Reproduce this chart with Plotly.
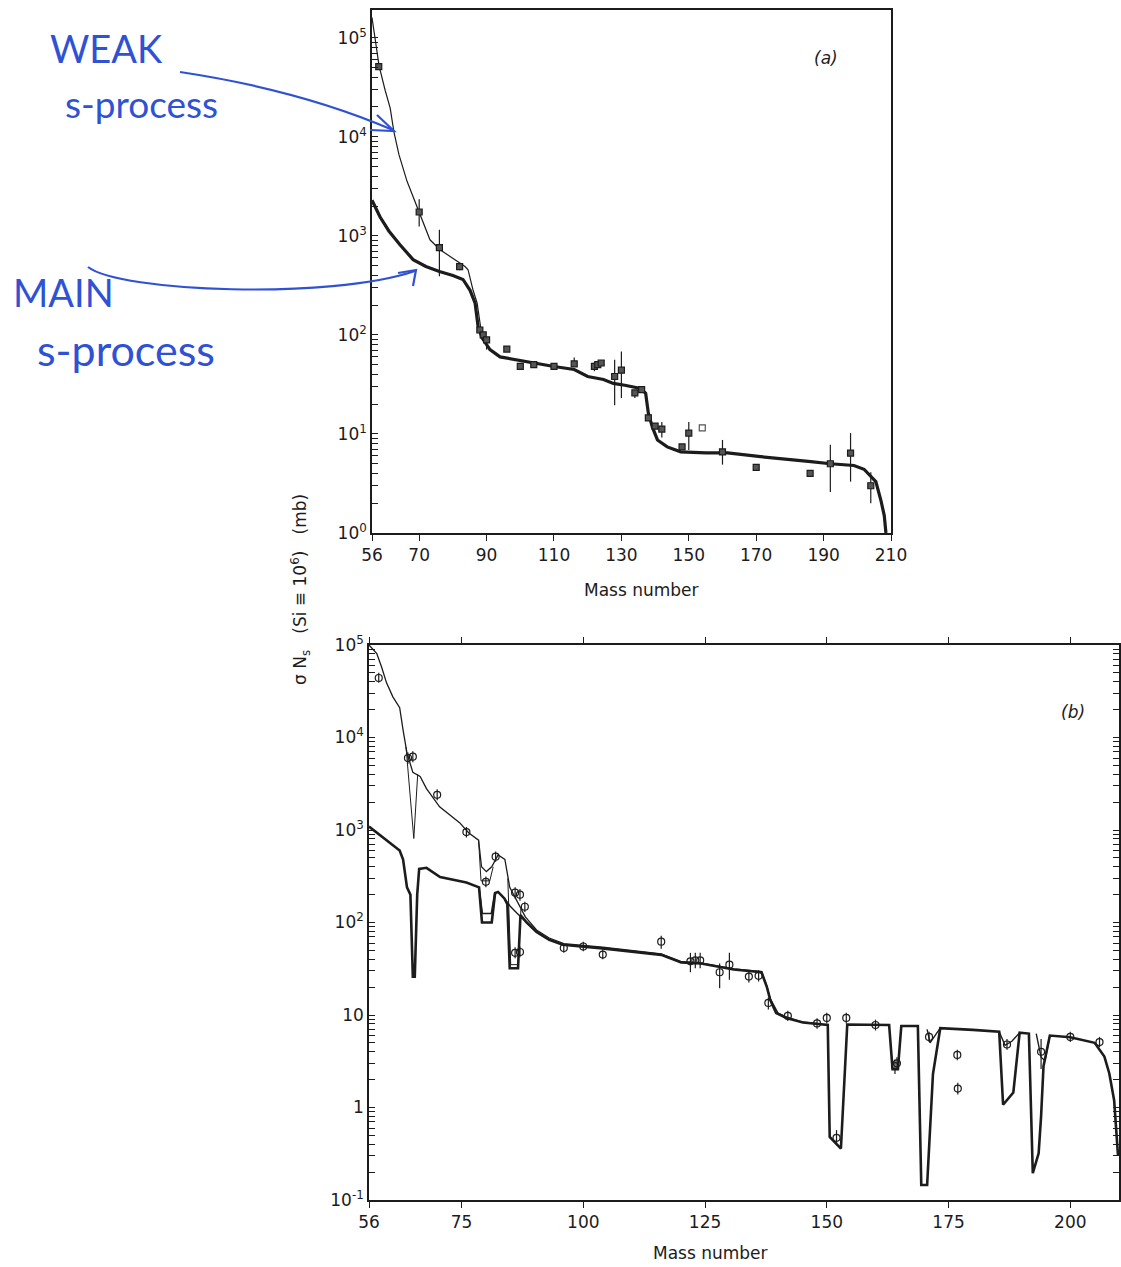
import plotly.graph_objects as go

W, H = 1121, 1267

# ---------------- Panel (a) data ----------------
a_main_A = [56, 58.4, 61, 64.3, 68.2, 72, 76, 80, 83, 85.1, 86.6, 87.5, 88.7, 91, 94, 100, 104, 110,
            116, 120, 124.7, 127.6, 131, 135.7, 137.2, 138, 139.2, 140.7, 143.6, 147.6, 155, 161.5,
            171.3, 180, 186.2, 192, 199, 202, 205.5, 207, 208, 208.5]
a_main_val = [2290, 1550, 1120, 813, 575, 490, 436, 398, 363, 282, 209, 120, 93, 71, 60, 55, 52.5, 48,
              44.7, 38, 35.5, 32.4, 31, 28.8, 25.7, 16.2, 11.7, 8.7, 7.4, 6.6, 6.45, 6.45,
              5.9, 5.56, 5.25, 5.0, 4.8, 4.4, 3.3, 2.14, 1.5, 1.0]

a_total_A = [56, 57, 58.1, 59.9, 61.4, 62.5, 64, 66.4, 69.4, 73.2, 76.2, 79.2, 82.1, 83.6, 84.5, 86, 87.2, 88.7]
a_total_val = [160000, 89000, 52000, 29500, 19500, 11200, 6600, 3550, 1950, 912, 724, 616, 537, 490, 455, 282, 209, 93]

a_pts_A = [58, 70, 76, 82, 88, 89, 90, 96, 100, 104, 110, 116, 122, 123, 124, 128, 130, 134, 136,
           138, 140, 142, 148, 150, 154, 160, 170, 186, 192, 198, 204]
a_pts_val = [51000, 1740, 760, 490, 112, 100, 89, 72, 48, 50, 48, 51, 48, 50, 52, 38, 44, 26, 28,
             14.5, 12, 11.2, 7.4, 10.2, 11.5, 6.6, 4.6, 4.0, 5.0, 6.4, 3.0]
a_err_plus = [0, 600, 390, 40, 0, 0, 5, 0, 0, 0, 0, 8, 5, 0, 0, 18, 24, 0, 0,
              0, 0, 2, 0, 3, 0, 2.1, 0, 0, 2.8, 3.8, 1.1]
a_err_minus = [0, 500, 370, 40, 0, 0, 18, 0, 0, 0, 0, 0, 5, 0, 0, 18.5, 21, 3, 0,
               0, 0, 2, 0, 3.3, 0, 1.7, 0, 0, 2.4, 3.1, 1.0]
a_open_A = [154]

# ---------------- Panel (b) data ----------------
b_main_A = [56, 58.9, 62.3, 63, 63.8, 64.5, 65.0, 65.4, 65.9, 66.3, 67.8, 70.6, 76, 78.6, 79.2, 81.2,
            81.9, 82.5, 83.8, 84.4, 84.9, 86.6, 87.1, 88.4, 90.4, 93, 95.8, 103.9, 116, 120.1, 124.2,
            130.9, 136.6, 137.7, 138.4, 139.6, 141.7, 145.1, 148.6, 150.2, 150.6, 152.9, 154.2, 160,
            162.8, 163.5, 164.6, 165.3, 168.7, 169.4, 170.6, 171.8, 173.3, 180, 185.4, 186.2, 188.3,
            189.6, 191.5, 192.3, 193.5, 194.0, 194.5, 195.8, 200, 205, 207, 208, 209, 209.8]
b_main_val = [1090, 830, 600, 480, 240, 200, 26, 26, 200, 380, 390, 310, 270, 240, 100, 100,
              209, 214, 182, 158, 32, 32, 120, 100, 79, 65, 57.5, 52.5, 44.7, 37, 36,
              31, 29, 20, 14.5, 10.5, 9.3, 8.3, 7.9, 7.8, 0.48, 0.36, 7.9, 7.8,
              7.8, 2.6, 2.6, 7.6, 7.6, 0.145, 0.145, 2.3, 7.2, 6.9, 6.6, 1.07, 1.45,
              6.45, 6.3, 0.195, 0.32, 0.8, 2.8, 6.0, 5.75, 5.0, 3.55, 2.35, 1.2, 0.3]

b_alt_A = [78.6, 79.3, 81.1, 81.8, None, 83.8, 85.0, 86.4, 88.4, None,
           170.6, 171.2, 172.5, 173.3, None, 185.4, 186.6, 188.0, 189.6, None,
           193.0, 194.0, 194.8, 195.8]
b_alt_val = [240, 125, 125, 210, None, 182, 150, 126, 100, None,
             7.0, 5.0, 6.3, 7.2, None, 6.6, 4.7, 5.2, 6.45, None,
             6.3, 3.5, 3.2, 6.0]

b_total_A = [56, 57.6, 58.6, 59.6, 60.9, 62.3, 63, 63.8, 65, 66.5, 67.8, 70.5, 74.6, 76.5, 78.5, 79.1,
             80.1, 81.2, 82.5, 83.9, 84.9, 85.9, 88.1, 90.4, 93, 96, 104, 116, 120, 124, 131,
             136.6, 137.7, 138.4, 140, 142, 145, 148.6]
b_total_val = [100000, 81000, 57500, 39000, 27500, 21000, 12000, 6800, 4200, 3800, 2800, 1780, 1200,
               930, 776, 400, 355, 400, 537, 480, 240, 190, 115, 83, 68, 59, 54, 45.7, 38, 36.5,
               31.5, 29.5, 20.5, 15, 10.5, 9.4, 8.4, 8.0]

b_total_alt_A = [63.6, 65.2, 66.0, None, 78.5, 79.0, 80.8, 81.5, None, 84.5, 85.1, 86.6, 87.2]
b_total_alt_val = [7900, 810, 4000, None, 776, 282, 282, 400, None, 300, 35, 35, 140]

b_pts_A = [58, 64, 65, 70, 76, 80, 82, 86, 87, 88, 86, 87, 96, 100, 104, 116, 122, 123, 124, 128,
           130, 134, 136, 138, 142, 148, 150, 152, 154, 160, 164, 164.4, 171, 176.8, 176.9, 187,
           194, 200, 206]
b_pts_val = [44000, 6000, 6200, 2400, 950, 275, 515, 210, 200, 148, 47, 48, 53, 55, 45, 62, 38, 39,
             39, 29, 35, 26, 26.5, 13.5, 9.8, 8.1, 9.3, 0.47, 9.3, 7.8, 2.8, 3.0, 5.8, 3.7, 1.6, 4.8,
             4.0, 5.8, 5.1]
b_err_plus = [6000, 900, 900, 350, 130, 40, 70, 30, 30, 20, 7, 7, 7, 7, 6, 10, 9, 8, 8, 7,
              12, 4, 4, 2, 1.3, 1.1, 1.3, 0.1, 1.3, 1.1, 0.5, 0.5, 0.8, 0.5, 0.25, 0.7,
              1.5, 0.8, 0.7]
b_err_minus = [5000, 800, 800, 300, 120, 35, 60, 28, 28, 18, 6, 6, 6, 6, 5, 10, 9, 7, 7, 9.5,
               11, 3.5, 3.5, 2, 1.2, 1, 1.2, 0.08, 1.2, 1, 0.5, 0.45, 0.7, 0.45, 0.22, 0.6,
               1.4, 0.7, 0.6]

a_xticks = [56, 70, 90, 110, 130, 150, 170, 190, 210]
a_yticks = [1, 10, 100, 1000, 10000, 100000]
a_yticktext = ["10<sup>0</sup>", "10<sup>1</sup>", "10<sup>2</sup>", "10<sup>3</sup>",
               "10<sup>4</sup>", "10<sup>5</sup>"]
b_xticks = [56, 75, 100, 125, 150, 175, 200]
b_yticks = [0.1, 1, 10, 100, 1000, 10000, 100000]
b_yticktext = ["10<sup>-1</sup>", "1", "10", "10<sup>2</sup>", "10<sup>3</sup>",
               "10<sup>4</sup>", "10<sup>5</sup>"]
a_minor = [m * 10 ** k for k in range(0, 6) for m in range(2, 10) if m * 10 ** k < 1.9e5]
b_minor = [m * 10.0 ** k for k in range(-1, 5) for m in range(2, 10)]

INK = "#1c1c1c"
BLUE = "#2f52d4"
FONT = "DejaVu Sans"

fig = go.Figure()

# Panel a
fig.add_trace(go.Scatter(x=a_total_A, y=a_total_val, mode="lines", line=dict(color=INK, width=1.2),
                         xaxis="x", yaxis="y", showlegend=False))
fig.add_trace(go.Scatter(x=a_main_A, y=a_main_val, mode="lines", line=dict(color=INK, width=3.2),
                         xaxis="x", yaxis="y", showlegend=False))
a_sym = ["square-open" if A in a_open_A else "square" for A in a_pts_A]
fig.add_trace(go.Scatter(x=a_pts_A, y=a_pts_val, mode="markers",
                         marker=dict(symbol=a_sym, size=6, color="#555555", line=dict(color=INK, width=1.2)),
                         error_y=dict(type="data", symmetric=False, array=a_err_plus, arrayminus=a_err_minus,
                                      color=INK, thickness=1.2, width=0),
                         xaxis="x", yaxis="y", showlegend=False))

# Panel b
fig.add_trace(go.Scatter(x=b_total_A, y=b_total_val, mode="lines", line=dict(color=INK, width=1.3),
                         xaxis="x2", yaxis="y2", showlegend=False))
fig.add_trace(go.Scatter(x=b_total_alt_A, y=b_total_alt_val, mode="lines", line=dict(color=INK, width=1.0),
                         xaxis="x2", yaxis="y2", showlegend=False, connectgaps=False))
fig.add_trace(go.Scatter(x=b_main_A, y=b_main_val, mode="lines", line=dict(color=INK, width=2.6),
                         xaxis="x2", yaxis="y2", showlegend=False))
fig.add_trace(go.Scatter(x=b_alt_A, y=b_alt_val, mode="lines", line=dict(color=INK, width=1.4),
                         xaxis="x2", yaxis="y2", showlegend=False, connectgaps=False))
fig.add_trace(go.Scatter(x=b_pts_A, y=b_pts_val, mode="markers",
                         marker=dict(symbol="circle-open", size=7, color=INK, line=dict(color=INK, width=1.2)),
                         error_y=dict(type="data", symmetric=False, array=b_err_plus, arrayminus=b_err_minus,
                                      color=INK, thickness=1.2, width=0),
                         xaxis="x2", yaxis="y2", showlegend=False))

tickfont = dict(family=FONT, size=17, color=INK)
common_x = dict(showgrid=False, zeroline=False, showline=True, linecolor=INK, linewidth=1.6,
                ticks="outside", ticklen=6, tickcolor=INK, tickfont=tickfont, tickmode="array")
common_y = dict(type="log", showgrid=False, zeroline=False, showline=True, linecolor=INK, linewidth=1.6,
                ticks="inside", ticklen=6, tickcolor=INK, tickwidth=1.4, tickfont=tickfont, tickmode="array")

a_xdom = [372 / W, 891 / W]
a_ydom = [1 - 533 / H, 1 - 10 / H]
b_xdom = [369 / W, 1119 / W]
b_ydom = [1 - 1200 / H, 1 - 645 / H]

fig.update_layout(
    width=W, height=H, margin=dict(l=0, r=0, t=0, b=0, autoexpand=False),
    paper_bgcolor="white", plot_bgcolor="white",
    xaxis=dict(common_x, domain=a_xdom, range=[56, 210], tickvals=a_xticks, mirror=True, anchor="y"),
    yaxis=dict(common_y, domain=a_ydom, range=[0, 5.28], tickvals=a_yticks + a_minor,
               ticktext=a_yticktext + [""] * len(a_minor), mirror=True, anchor="x"),
    xaxis2=dict(common_x, domain=b_xdom, range=[56, 210], tickvals=b_xticks, mirror="ticks", anchor="y2"),
    yaxis2=dict(common_y, domain=b_ydom, range=[-1, 5], tickvals=b_yticks + b_minor,
                ticktext=b_yticktext + [""] * len(b_minor), mirror="ticks", anchor="x2"),
)


def px(x, y):
    return x / W, 1 - y / H


annos = []
for (x, y, txt, size, ang, style) in [
    (641, 590, "Mass number", 17, 0, "normal"),
    (710, 1253, "Mass number", 17, 0, "normal"),
    (300, 590, "σ N<sub>s</sub>   (Si ≡ 10<sup>6</sup>)   (mb)", 17, -90, "normal"),
    (826, 58, "(a)", 17, 0, "italic"),
    (1073, 712, "(b)", 17, 0, "italic"),
]:
    X, Y = px(x, y)
    annos.append(dict(x=X, y=Y, xref="paper", yref="paper", text=txt, showarrow=False,
                      textangle=ang, font=dict(family=FONT, size=size, color=INK, style=style),
                      xanchor="center", yanchor="middle"))

for (x, y, txt, size) in [
    (106, 48, "WEAK", 38),
    (141, 103, "s-process", 37),
    (63, 292, "MAIN", 38),
    (126, 350, "s-process", 43),
]:
    X, Y = px(x, y)
    annos.append(dict(x=X, y=Y, xref="paper", yref="paper", text=txt, showarrow=False,
                      font=dict(family="Lato", size=size, color=BLUE),
                      xanchor="center", yanchor="middle"))
fig.update_layout(annotations=annos)


def path(cmds):
    out = []
    for c in cmds:
        if isinstance(c, str):
            out.append(c)
        else:
            X, Y = px(*c)
            out.append(f"{X:.5f},{Y:.5f}")
    return " ".join(out)


shapes = []
arrow_paths = [
    ["M", (180, 72), "Q", (300, 90), (393, 130)],
    ["M", (377, 115), "L", (394, 131), "L", (370, 130)],
    ["M", (88, 267), "C", (120, 292), (330, 300), (415, 271)],
    ["M", (398, 273), "L", (416, 270), "L", (413, 286)],
]
for p in arrow_paths:
    shapes.append(dict(type="path", xref="paper", yref="paper", path=path(p),
                       line=dict(color=BLUE, width=2.2)))
fig.update_layout(shapes=shapes)

fig.write_html("out.html", post_script="document.body.style.margin='0';")
